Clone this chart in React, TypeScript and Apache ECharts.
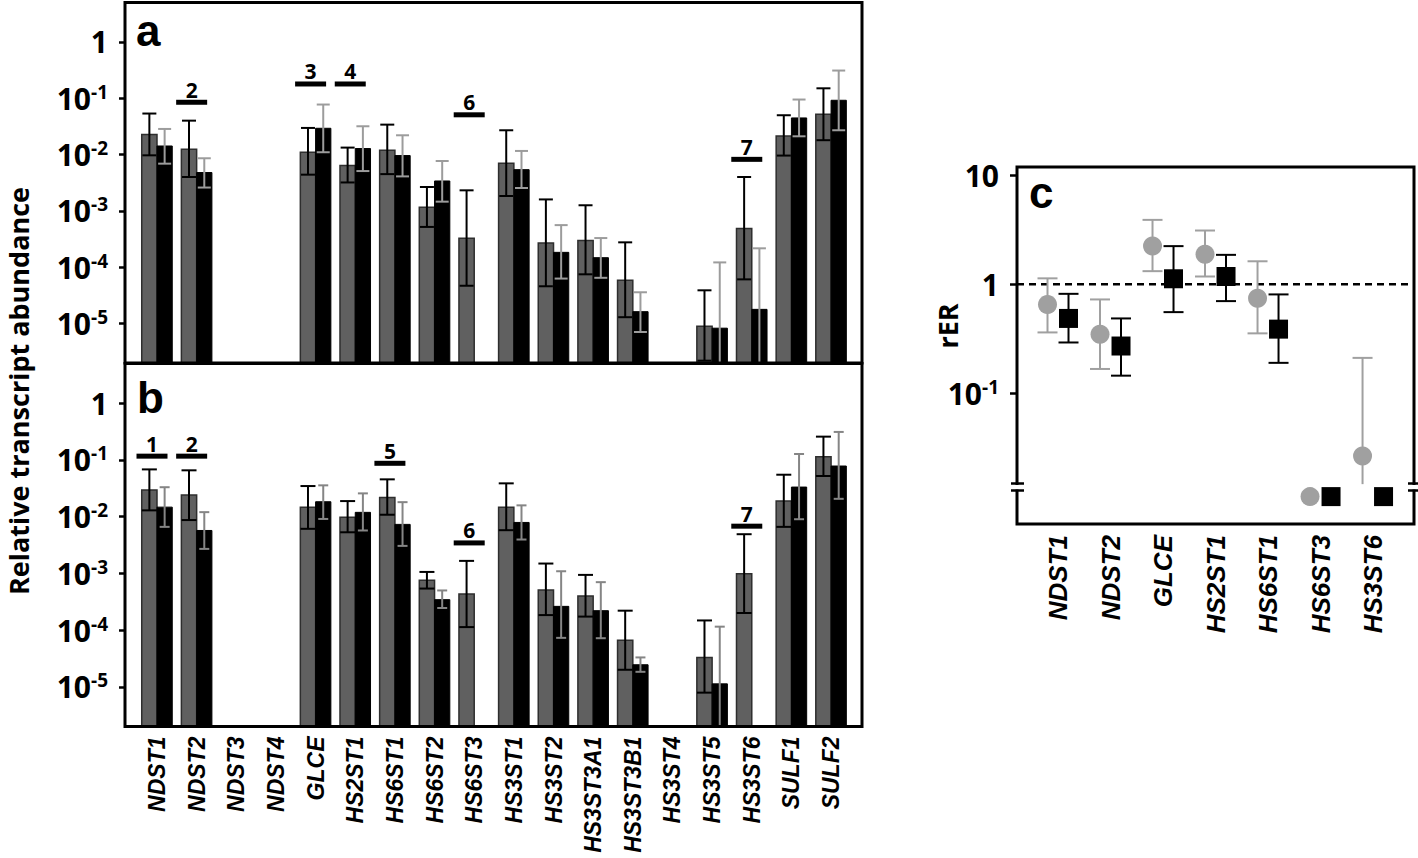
import React, { useEffect, useRef } from 'react';
import * as echarts from 'echarts';

// ---------- data ----------
const genes = ['NDST1', 'NDST2', 'NDST3', 'NDST4', 'GLCE', 'HS2ST1', 'HS6ST1', 'HS6ST2', 'HS6ST3', 'HS3ST1', 'HS3ST2', 'HS3ST3A1', 'HS3ST3B1', 'HS3ST4', 'HS3ST5', 'HS3ST6', 'SULF1', 'SULF2'];

// panel a
const aGrey = [0.0227, 0.0124, null, null, 0.011, 0.0064, 0.0119, 0.00116, 0.000326, 0.007, 0.000269, 0.0003, 5.9e-5, null, 9.0e-6, 0.00049, 0.0214, 0.052];
const aGreyLow = [0.0097, 0.004, null, null, 0.0044, 0.0032, 0.0045, 0.00052, 4.7e-5, 0.00184, 4.6e-5, 7.5e-5, 1.3e-5, null, 2.2e-6, 6.1e-5, 0.0096, 0.018];
const aGreyHigh = [0.0535, 0.04, null, null, 0.0297, 0.0133, 0.034, 0.00266, 0.00232, 0.027, 0.0016, 0.00126, 0.000277, null, 3.9e-5, 0.004, 0.0499, 0.15];
const aBlack = [0.0142, 0.0048, null, null, 0.0293, 0.0128, 0.0096, 0.0034, null, 0.0054, 0.000184, 0.000148, 1.63e-5, null, 8.3e-6, 1.79e-5, 0.0447, 0.092];
const aBlackLow = [0.0069, 0.0026, null, null, 0.011, 0.0051, 0.0041, 0.00146, null, 0.00255, 6.3e-5, 6.5e-5, 7.1e-6, null, null, null, 0.0211, 0.027];
const aBlackHigh = [0.0285, 0.0086, null, null, 0.0773, 0.0318, 0.022, 0.0077, null, 0.0116, 0.00056, 0.00033, 3.6e-5, null, 0.000122, 0.000217, 0.0948, 0.31];

// panel b
const bGrey = [0.0294, 0.024, null, null, 0.0146, 0.0098, 0.0218, 0.00076, 0.000433, 0.0147, 0.00051, 0.0004, 6.6e-5, null, 3.3e-5, 0.00098, 0.0188, 0.114];
const bGreyLow = [0.0129, 0.0087, null, null, 0.0061, 0.0053, 0.0108, 0.00054, 0.000113, 0.00577, 0.000184, 0.000173, 2.0e-5, null, 7.9e-6, 0.0002, 0.0066, 0.052];
const bGreyHigh = [0.068, 0.0655, null, null, 0.0346, 0.0188, 0.0454, 0.00106, 0.00166, 0.0386, 0.00149, 0.00094, 0.00022, null, 0.000148, 0.0049, 0.0548, 0.257];
const bBlack = [0.0147, 0.0057, null, null, 0.0183, 0.0119, 0.0073, 0.000344, null, 0.0079, 0.000262, 0.00022, 2.45e-5, null, 1.13e-5, null, 0.0332, 0.078];
const bBlackLow = [0.0066, 0.0027, null, null, 0.0091, 0.0057, 0.00305, 0.000245, null, 0.00395, 7.3e-5, 7.2e-5, 1.84e-5, null, null, null, 0.009, 0.0206];
const bBlackHigh = [0.033, 0.012, null, null, 0.0356, 0.0257, 0.018, 0.0005, null, 0.0158, 0.00109, 0.0007, 3.3e-5, null, 0.000115, null, 0.127, 0.311];

// significance marks
const aMarkGenes = ['NDST2', 'GLCE', 'HS2ST1', 'HS6ST3', 'HS3ST6'];
const aMarkLabels = ['2', '3', '4', '6', '7'];
const aMarkLevels = [0.0848, 0.179, 0.179, 0.0508, 0.00823];
const bMarkGenes = ['NDST1', 'NDST2', 'HS6ST1', 'HS6ST3', 'HS3ST6'];
const bMarkLabels = ['1', '2', '5', '6', '7'];
const bMarkLevels = [0.1164, 0.1164, 0.0871, 0.00344, 0.00679];

// panel c
const cGenes = ['NDST1', 'NDST2', 'GLCE', 'HS2ST1', 'HS6ST1', 'HS6ST3', 'HS3ST6'];
const cGrey = [0.652, 0.348, 2.24, 1.88, 0.744, 0.0113, 0.0266];
const cGreyLow = [0.361, 0.167, 1.315, 1.175, 0.354, null, null];
const cGreyHigh = [1.13, 0.724, 3.88, 3.1, 1.62, null, 0.211];
const cBlack = [0.485, 0.271, 1.12, 1.175, 0.387, 0.0113, 0.0113];
const cBlackLow = [0.292, 0.145, 0.554, 0.699, 0.19, null, null];
const cBlackHigh = [0.815, 0.485, 2.23, 1.855, 0.805, null, null];
const cRefLine = [1];

const abTicks = [1e-5, 1e-4, 1e-3, 1e-2, 1e-1, 1];
const cTicks = [0.1, 1, 10];

// axis ranges
const AB_MIN = 2e-6;
const AB_MAX = 5;
const C_MIN = 0.00634;
const C_MAX = 11.84;
const C_BREAK = 0.0147;

const SANS = '"Open Sans"';

// ---------- helpers ----------
function rows(mean: any[], low: any[], high: any[]) {
  const out: number[][] = [];
  mean.forEach((m, i) => {
    if (m != null) out.push([i, m, low[i] == null ? 0 : low[i], high[i] == null ? 0 : high[i]]);
  });
  return out;
}

function logLabel(v: number) {
  const e = Math.round(Math.log10(v));
  if (e === 0) return '{b|1}';
  if (e === 1) return '{b|10}';
  return '{b|10}{sup|' + e + '}';
}

function makeBarRender(side: number, fill: string, stroke: string, strokeW: number, errColor: string, capHalf: number) {
  return (params: any, api: any) => {
    const cs = params.coordSys;
    const i = api.value(0);
    const m = api.value(1);
    const lo = api.value(2);
    const hi = api.value(3);
    const p = api.coord([i, m]);
    const band = api.coord([i + 1, m])[0] - p[0];
    const bw = band * 0.385;
    const bottom = cs.y + cs.height;
    const x0 = side < 0 ? p[0] - bw : p[0];
    const cx = x0 + bw / 2;
    const kids: any[] = [
      { type: 'rect', shape: { x: x0, y: p[1], width: bw, height: bottom - p[1] }, style: { fill, stroke, lineWidth: strokeW } },
    ];
    if (hi > 0) {
      const yHi = api.coord([i, hi])[1];
      const yLo = lo > 0 ? api.coord([i, lo])[1] : bottom;
      const ls = { stroke: errColor, lineWidth: 2 };
      kids.push({ type: 'line', shape: { x1: cx, y1: yHi, x2: cx, y2: yLo }, style: ls });
      kids.push({ type: 'line', shape: { x1: cx - capHalf, y1: yHi, x2: cx + capHalf, y2: yHi }, style: ls });
      if (lo > 0) kids.push({ type: 'line', shape: { x1: cx - capHalf, y1: yLo, x2: cx + capHalf, y2: yLo }, style: ls });
    }
    return { type: 'group', children: kids };
  };
}

function makeMarkRender(labels: string[]) {
  return (params: any, api: any) => {
    const p = api.coord([api.value(0), api.value(1)]);
    const cx = p[0] - 5;
    return {
      type: 'group',
      children: [
        { type: 'rect', shape: { x: cx - 15.5, y: p[1] - 2.5, width: 31, height: 5 }, style: { fill: '#000' } },
        {
          type: 'text',
          style: {
            text: labels[params.dataIndex], x: cx, y: p[1] - 2,
            align: 'center', verticalAlign: 'bottom', textAlign: 'center', textVerticalAlign: 'bottom',
            font: 'bold 21px ' + SANS, fill: '#000',
          },
        },
      ],
    };
  };
}

function makeMarkerRender(kind: string, offset: number, color: string) {
  return (params: any, api: any) => {
    const i = api.value(0);
    const m = api.value(1);
    const lo = api.value(2);
    const hi = api.value(3);
    const p = api.coord([i, m]);
    const cx = p[0] + offset;
    const kids: any[] = [];
    if (hi > 0) {
      const yHi = api.coord([i, hi])[1];
      const yLo = lo > 0 ? api.coord([i, lo])[1] : api.coord([i, C_BREAK])[1];
      const ls = { stroke: color, lineWidth: 2 };
      kids.push({ type: 'line', shape: { x1: cx, y1: yHi, x2: cx, y2: yLo }, style: ls });
      kids.push({ type: 'line', shape: { x1: cx - 10, y1: yHi, x2: cx + 10, y2: yHi }, style: ls });
      if (lo > 0) kids.push({ type: 'line', shape: { x1: cx - 10, y1: yLo, x2: cx + 10, y2: yLo }, style: ls });
    }
    if (kind === 'circle') {
      kids.push({ type: 'circle', shape: { cx, cy: p[1], r: 9.5 }, style: { fill: color } });
    } else {
      kids.push({ type: 'rect', shape: { x: cx - 9.5, y: p[1] - 9.5, width: 19, height: 19 }, style: { fill: color } });
    }
    return { type: 'group', children: kids };
  };
}

const refLineRender = (params: any, api: any) => {
  const cs = params.coordSys;
  const y = api.coord([0, api.value(1)])[1];
  return {
    type: 'line',
    shape: { x1: cs.x, y1: y, x2: cs.x + cs.width, y2: y },
    style: { stroke: '#000', lineWidth: 2.5, lineDash: [7, 5] },
  };
};

const yLabelStyle = {
  color: '#000', fontFamily: SANS, fontWeight: 'bold', fontSize: 30, lineHeight: 32,
  rich: {
    b: { fontFamily: SANS, fontWeight: 'bold', fontSize: 30, lineHeight: 32, color: '#000' },
    sup: { fontFamily: SANS, fontWeight: 'bold', fontSize: 19, lineHeight: 20, verticalAlign: 'top', color: '#000' },
  },
};

function logY(gridIndex: number, min: number, max: number, ticks: number[], tickLen: number, margin: number) {
  return {
    type: 'log', logBase: 10, gridIndex, min, max,
    axisLine: { show: false, onZero: false },
    axisTick: { show: true, length: tickLen, customValues: ticks, lineStyle: { color: '#000', width: 2.5 } },
    axisLabel: { ...yLabelStyle, customValues: ticks, formatter: logLabel, margin },
    splitLine: { show: false },
  };
}

const xLabelBase = { rotate: 90, color: '#000', fontFamily: 'Liberation Sans', fontStyle: 'italic', fontWeight: 'bold' };

const frame = (x: number, y: number, w: number, h: number) => ({
  type: 'rect', z: 100, silent: true,
  shape: { x, y, width: w, height: h },
  style: { fill: 'none', stroke: '#000', lineWidth: 3 },
});

const breakMark = (x: number) => [
  { type: 'rect', z: 101, silent: true, shape: { x: x - 3, y: 485, width: 6, height: 4.5 }, style: { fill: '#fff' } },
  { type: 'line', z: 102, silent: true, shape: { x1: x - 6, y1: 483.5, x2: x + 7, y2: 483.5 }, style: { stroke: '#000', lineWidth: 2.5 } },
  { type: 'line', z: 102, silent: true, shape: { x1: x - 6, y1: 490.5, x2: x + 7, y2: 490.5 }, style: { stroke: '#000', lineWidth: 2.5 } },
];

const letter = (t: string, x: number, y: number) => ({
  type: 'text', z: 103, silent: true, x, y,
  style: { text: t, x: 0, y: 0, font: 'bold 44px "Liberation Sans"', fill: '#000', align: 'left', verticalAlign: 'middle', textAlign: 'left', textVerticalAlign: 'middle' },
});

export default function App() {
  const ref = useRef<HTMLDivElement>(null);
  useEffect(() => {
    if (!ref.current) return;
    const chart = echarts.init(ref.current, null, { renderer: 'svg' });
    const geneIdx = genes.map((_, i) => i);
    const cIdx = cGenes.map((_, i) => i);
    const markRows = (g: string[], lv: number[]) => g.map((name, k) => [genes.indexOf(name), lv[k]]);
    const hiddenX = { axisLine: { show: false, onZero: false }, axisTick: { show: false }, splitLine: { show: false } };

    const option: any = {
      animation: false,
      backgroundColor: '#fff',
      grid: [
        { left: 125, top: 2.5, width: 737, height: 360.5, outerBoundsMode: 'none', containLabel: false },
        { left: 125, top: 363.5, width: 737, height: 363, outerBoundsMode: 'none', containLabel: false },
        { left: 1017, top: 167, width: 397, height: 357, outerBoundsMode: 'none', containLabel: false },
      ],
      xAxis: [
        { type: 'value', gridIndex: 0, min: -0.807, max: 17.78, ...hiddenX, axisLabel: { show: false } },
        {
          type: 'value', gridIndex: 1, min: -0.807, max: 17.78, ...hiddenX,
          axisLabel: { ...xLabelBase, fontSize: 23, margin: 10, customValues: geneIdx, formatter: (v: number) => genes[Math.round(v)] },
        },
        {
          type: 'value', gridIndex: 2, min: -0.781, max: 6.78, ...hiddenX,
          axisLabel: { ...xLabelBase, fontSize: 26, margin: 11, customValues: cIdx, formatter: (v: number) => cGenes[Math.round(v)] },
        },
      ],
      yAxis: [
        logY(0, AB_MIN, AB_MAX, abTicks, 6, 17),
        logY(1, AB_MIN, AB_MAX, abTicks, 6, 17),
        logY(2, C_MIN, C_MAX, cTicks, 7, 18),
      ],
      series: [
        { type: 'custom', xAxisIndex: 0, yAxisIndex: 0, encode: { x: 0, y: 1 }, data: rows(aGrey, aGreyLow, aGreyHigh), renderItem: makeBarRender(-1, '#606060', '#2e2e2e', 1.5, '#000', 7) },
        { type: 'custom', xAxisIndex: 0, yAxisIndex: 0, encode: { x: 0, y: 1 }, data: rows(aBlack, aBlackLow, aBlackHigh), renderItem: makeBarRender(1, '#000', '#000', 1, '#9c9c9c', 6.5) },
        { type: 'custom', xAxisIndex: 0, yAxisIndex: 0, encode: { x: 0, y: 1 }, data: markRows(aMarkGenes, aMarkLevels), renderItem: makeMarkRender(aMarkLabels) },
        { type: 'custom', xAxisIndex: 1, yAxisIndex: 1, encode: { x: 0, y: 1 }, data: rows(bGrey, bGreyLow, bGreyHigh), renderItem: makeBarRender(-1, '#606060', '#2e2e2e', 1.5, '#000', 7.5) },
        { type: 'custom', xAxisIndex: 1, yAxisIndex: 1, encode: { x: 0, y: 1 }, data: rows(bBlack, bBlackLow, bBlackHigh), renderItem: makeBarRender(1, '#000', '#000', 1, '#858585', 5) },
        { type: 'custom', xAxisIndex: 1, yAxisIndex: 1, encode: { x: 0, y: 1 }, data: markRows(bMarkGenes, bMarkLevels), renderItem: makeMarkRender(bMarkLabels) },
        { type: 'custom', xAxisIndex: 2, yAxisIndex: 2, encode: { x: 0, y: 1 }, data: cRefLine.map((v) => [0, v]), renderItem: refLineRender, z: 1 },
        { type: 'custom', xAxisIndex: 2, yAxisIndex: 2, encode: { x: 0, y: 1 }, data: rows(cGrey, cGreyLow, cGreyHigh), renderItem: makeMarkerRender('circle', -10.5, '#a0a0a0') },
        { type: 'custom', xAxisIndex: 2, yAxisIndex: 2, encode: { x: 0, y: 1 }, data: rows(cBlack, cBlackLow, cBlackHigh), renderItem: makeMarkerRender('square', 10.5, '#000') },
      ],
      graphic: {
        elements: [
          frame(125, 2.5, 737, 360.5),
          frame(125, 363.5, 737, 363),
          frame(1017, 167, 397, 357),
          ...breakMark(1017),
          ...breakMark(1414),
          letter('a', 136, 30),
          letter('b', 137, 397),
          letter('c', 1029, 192),
          {
            type: 'text', z: 103, silent: true, x: 18, y: 391, rotation: Math.PI / 2,
            style: { text: 'Relative transcript abundance', x: 0, y: 0, font: 'bold 27px ' + SANS, fill: '#000', align: 'center', verticalAlign: 'middle', textAlign: 'center', textVerticalAlign: 'middle' },
          },
          {
            type: 'text', z: 103, silent: true, x: 947, y: 326, rotation: Math.PI / 2,
            style: { text: 'rER', x: 0, y: 0, font: 'bold 27px ' + SANS, fill: '#000', align: 'center', verticalAlign: 'middle', textAlign: 'center', textVerticalAlign: 'middle' },
          },
        ],
      },
    };
    chart.setOption(option);
    return () => chart.dispose();
  }, []);
  return <div ref={ref} style={{ position: 'absolute', left: 0, top: 0, width: 1418, height: 858, background: '#fff' }} />;
}
